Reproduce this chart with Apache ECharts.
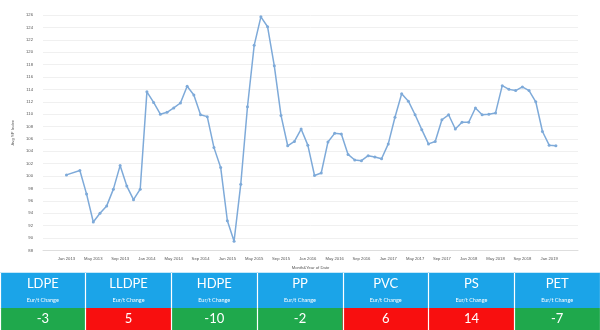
<!DOCTYPE html>
<html>
<head>
<meta charset="utf-8">
<script src="https://cdn.jsdelivr.net/npm/echarts@6/dist/echarts.min.js"></script>
<style>
  html, body { margin: 0; padding: 0; background: #fff; }
  #chart { width: 600px; height: 330px; }
</style>
</head>
<body>
<div id="chart"></div>
<script>
// Monthly average SP index, Jan 2013 - Feb 2019 (no reading for Feb 2013)
const months = [
  'Jan 2013','Feb 2013','Mar 2013','Apr 2013','May 2013','Jun 2013','Jul 2013','Aug 2013','Sep 2013','Oct 2013','Nov 2013','Dec 2013',
  'Jan 2014','Feb 2014','Mar 2014','Apr 2014','May 2014','Jun 2014','Jul 2014','Aug 2014','Sep 2014','Oct 2014','Nov 2014','Dec 2014',
  'Jan 2015','Feb 2015','Mar 2015','Apr 2015','May 2015','Jun 2015','Jul 2015','Aug 2015','Sep 2015','Oct 2015','Nov 2015','Dec 2015',
  'Jan 2016','Feb 2016','Mar 2016','Apr 2016','May 2016','Jun 2016','Jul 2016','Aug 2016','Sep 2016','Oct 2016','Nov 2016','Dec 2016',
  'Jan 2017','Feb 2017','Mar 2017','Apr 2017','May 2017','Jun 2017','Jul 2017','Aug 2017','Sep 2017','Oct 2017','Nov 2017','Dec 2017',
  'Jan 2018','Feb 2018','Mar 2018','Apr 2018','May 2018','Jun 2018','Jul 2018','Aug 2018','Sep 2018','Oct 2018','Nov 2018','Dec 2018',
  'Jan 2019','Feb 2019'
];
const spIndex = [
  100.2, null, 100.9, 97.1, 92.6, 94.0, 95.2, 97.9, 101.7, 98.4, 96.2, 97.9,
  113.6, 111.9, 110.0, 110.3, 111.0, 111.8, 114.5, 113.1, 109.9, 109.6, 104.6, 101.4,
  92.8, 89.5, 98.7, 111.2, 121.1, 125.7, 124.1, 117.8, 109.8, 104.9, 105.6, 107.6,
  105.0, 100.1, 100.5, 105.5, 106.9, 106.8, 103.5, 102.6, 102.5, 103.3, 103.1, 102.8,
  105.2, 109.5, 113.3, 112.1, 109.9, 107.5, 105.2, 105.6, 109.1, 109.9, 107.6, 108.7,
  108.7, 111.0, 109.9, 110.0, 110.2, 114.6, 114.0, 113.8, 114.4, 113.8, 112.0, 107.2,
  105.0, 104.9
];
const tickLabels = [
  'Jan 2013','May 2013','Sep 2013','Jan 2014','May 2014','Sep 2014','Jan 2015','May 2015','Sep 2015',
  'Jan 2016','May 2016','Sep 2016','Jan 2017','May 2017','Sep 2017','Jan 2018','May 2018','Sep 2018','Jan 2019'
];

// Price change per resin
const resins = ['LDPE', 'LLDPE', 'HDPE', 'PP', 'PVC', 'PS', 'PET'];
const changes = [-3, 5, -10, -2, 6, 14, -7];
const changeUnit = 'Eur/t Change';

const lineColor = '#7eaad9';
const headBlue = '#1ba4e8';
const upRed = '#f80f0f';
const downGreen = '#1fa84c';

const linePoints = [];
spIndex.forEach((v, i) => { if (v !== null) linePoints.push([i, v]); });
const tickIdx = tickLabels.map(t => months.indexOf(t));

const headCells = resins.map((r, i) => ({
  value: [i, 0, 1],
  name: r,
  itemStyle: { color: headBlue }
}));
const valueCells = changes.map((c, i) => ({
  value: [i, 0, c],
  itemStyle: { color: c > 0 ? upRed : downGreen }
}));

// table column axes: only the white dividers between cells are drawn
const tableAxis = (gi) => ({
  gridIndex: gi, type: 'category', data: resins, z: 10,
  axisLine: { show: false }, axisTick: { show: false }, axisLabel: { show: false },
  splitLine: { show: true, lineStyle: { color: '#fff', width: 1.2 } }
});

const chart = echarts.init(document.getElementById('chart'), null, { renderer: 'canvas' });
chart.setOption({
  animation: false,
  backgroundColor: '#fff',
  grid: [
    { left: 43, width: 535, top: 15, height: 235.5 },
    { left: 0, right: 0, top: 273, height: 35.5 },
    { left: 0, right: 0, top: 308.3, height: 21.7 }
  ],
  xAxis: [
    {
      gridIndex: 0, type: 'value', min: -3.5, max: 76.3,
      name: 'Month&Year of Date', nameLocation: 'middle', nameGap: 15,
      nameTextStyle: { fontSize: 4.2, color: '#555', fontFamily: 'Liberation Sans' },
      axisLine: { show: true, lineStyle: { color: '#dedede', width: 1 } },
      axisTick: { show: false },
      splitLine: { show: false },
      axisLabel: {
        customValues: tickIdx, margin: 6, fontSize: 4.2, color: '#555',
        fontFamily: 'Liberation Sans',
        formatter: v => months[v]
      }
    },
    tableAxis(1),
    tableAxis(2)
  ],
  yAxis: [
    {
      gridIndex: 0, type: 'value', min: 88, max: 126, interval: 2,
      name: 'Avg SP Index', nameLocation: 'middle', nameGap: 20,
      nameTextStyle: { fontSize: 4.2, color: '#555', fontFamily: 'Liberation Sans' },
      axisLine: { show: false }, axisTick: { show: false },
      splitLine: { lineStyle: { color: '#f0f0f0', width: 1 } },
      axisLabel: { margin: 10, fontSize: 4.2, color: '#555', fontFamily: 'Liberation Sans' }
    },
    { gridIndex: 1, type: 'category', data: ['head'], show: false },
    { gridIndex: 2, type: 'category', data: ['value'], show: false }
  ],
  series: [
    {
      type: 'line', xAxisIndex: 0, yAxisIndex: 0,
      data: linePoints,
      symbol: 'circle', symbolSize: 3, showSymbol: true,
      lineStyle: { color: lineColor, width: 1.5 },
      itemStyle: { color: lineColor }
    },
    {
      type: 'heatmap', xAxisIndex: 1, yAxisIndex: 1,
      data: headCells,
      label: {
        show: true,
        formatter: p => '{n|' + p.name + '}\n{s|' + changeUnit + '}',
        rich: {
          n: { fontSize: 13, lineHeight: 19, color: '#fff', fontFamily: 'Lato' },
          s: { fontSize: 5.5, lineHeight: 14, color: '#fff', fontFamily: 'Lato' }
        }
      },
      emphasis: { disabled: true }
    },
    {
      type: 'heatmap', xAxisIndex: 2, yAxisIndex: 2,
      data: valueCells,
      label: {
        show: true, fontSize: 13, color: '#fff', fontFamily: 'Lato',
        formatter: p => String(p.value[2])
      },
      emphasis: { disabled: true }
    }
  ]
});
</script>
</body>
</html>
